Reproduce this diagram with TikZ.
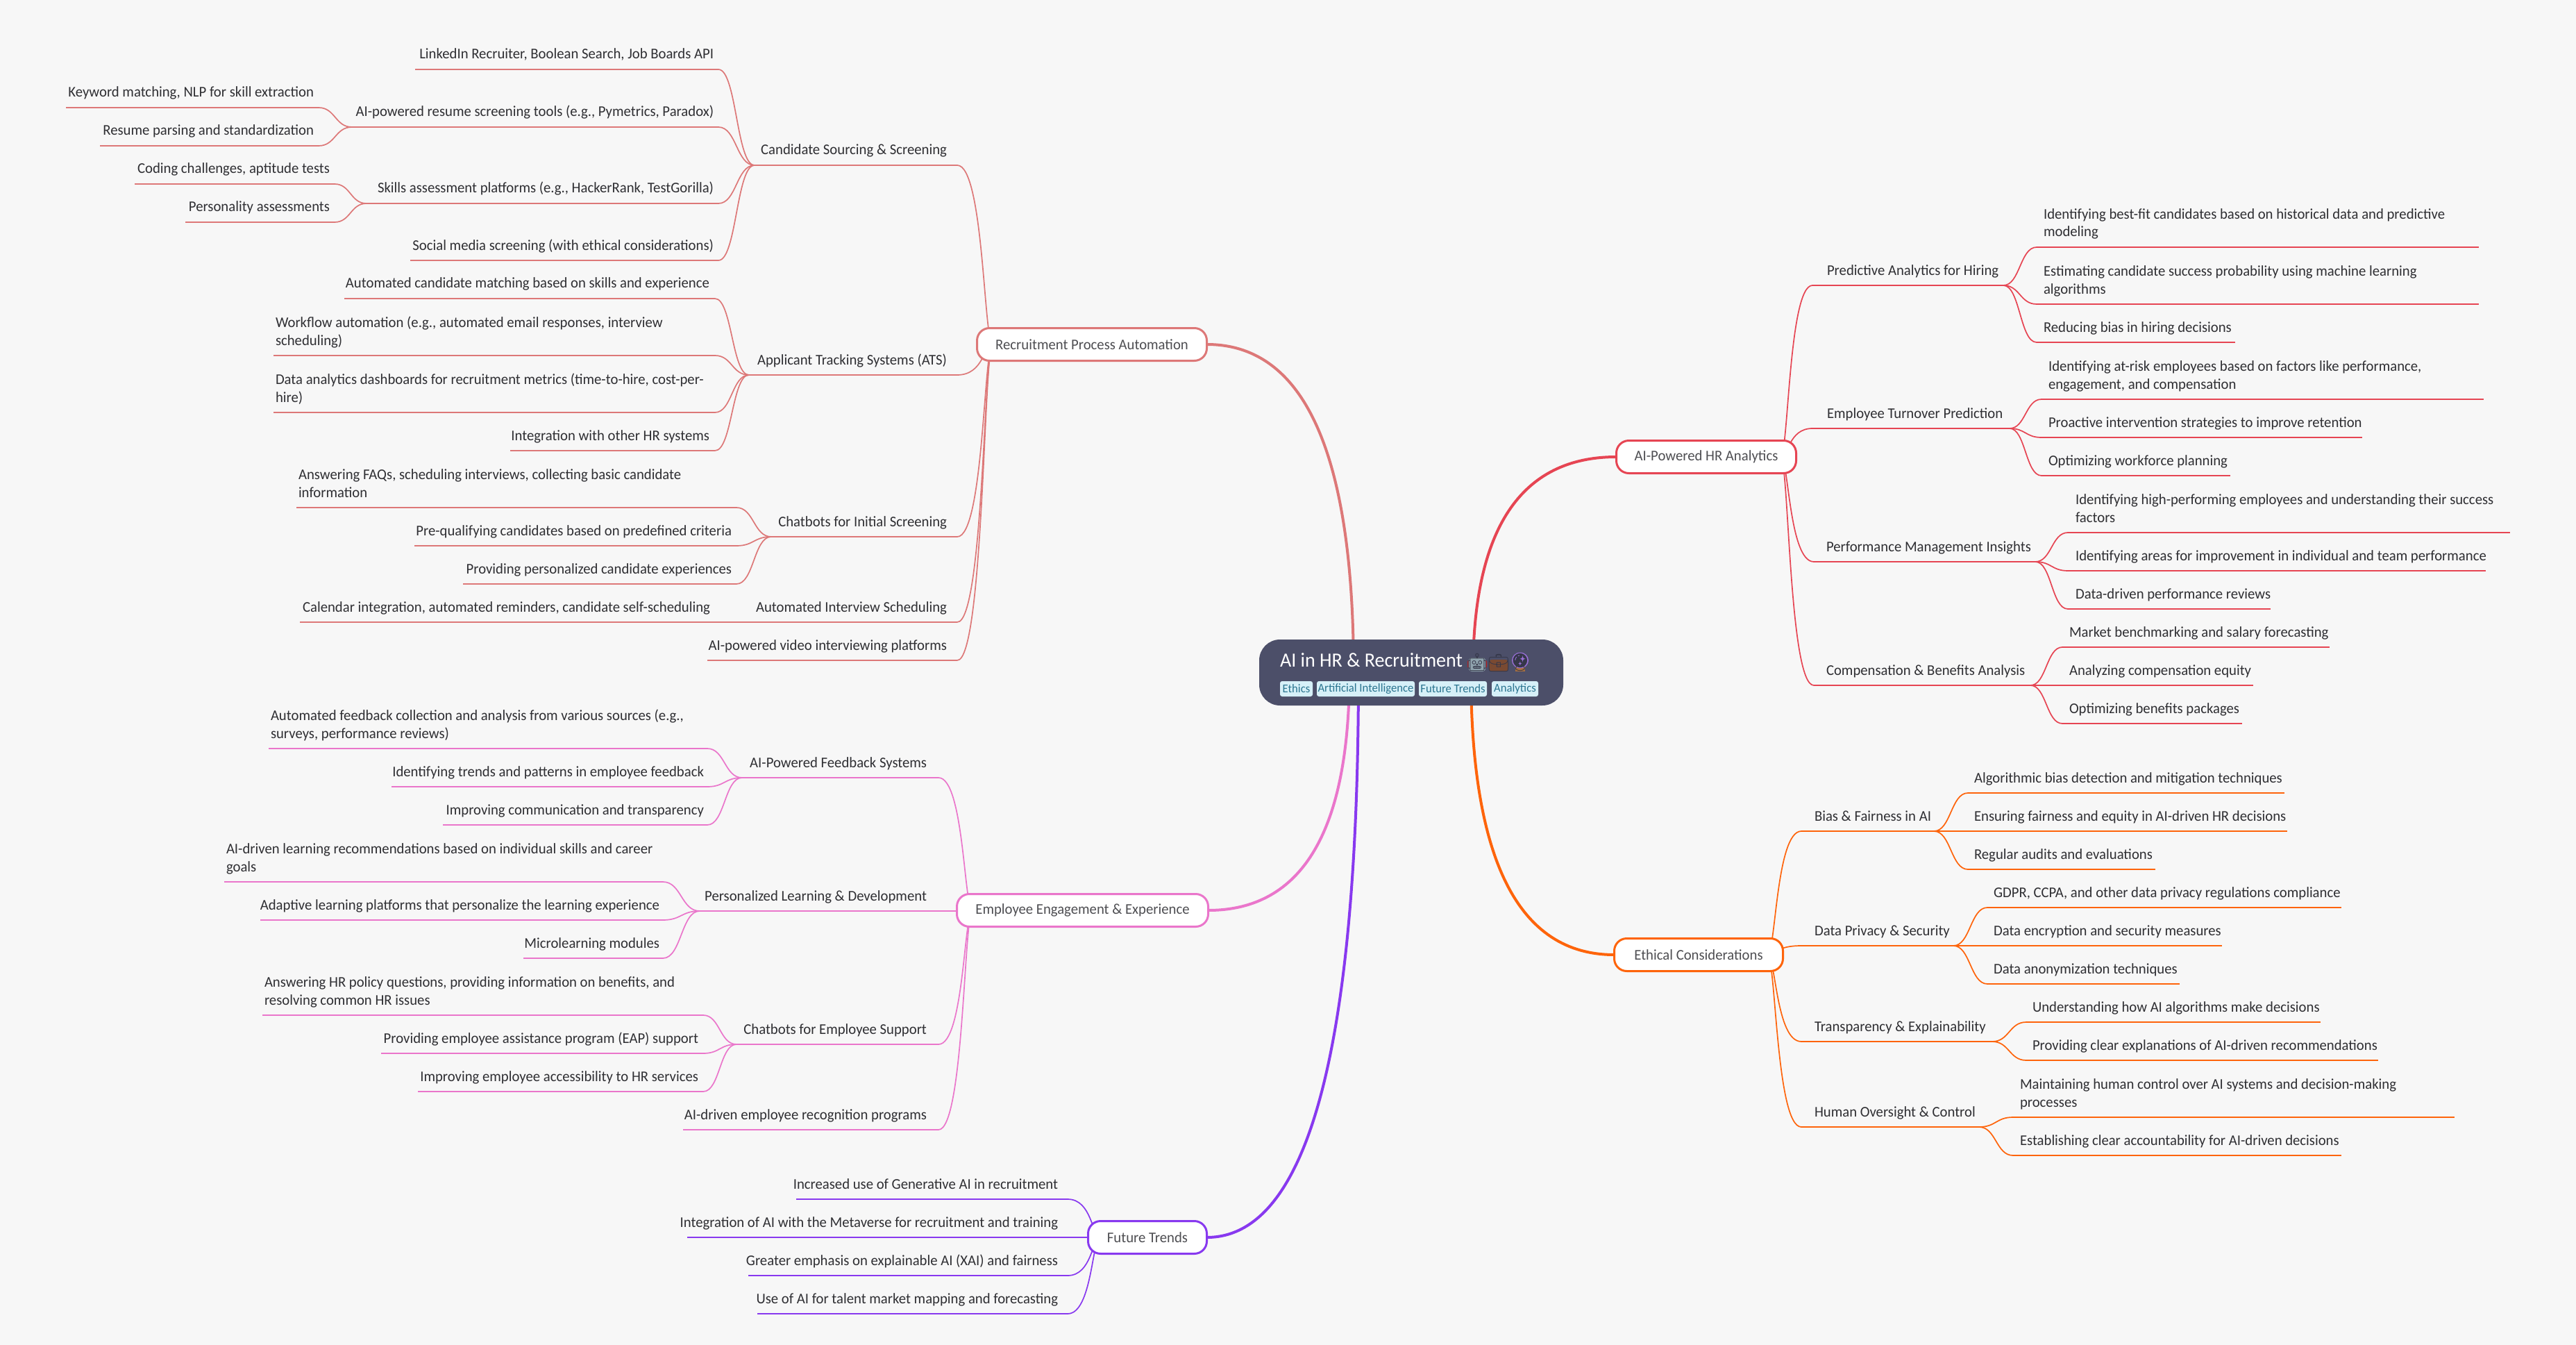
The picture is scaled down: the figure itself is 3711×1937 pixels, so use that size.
\documentclass[tikz,border=0pt]{standalone}
\usepackage{fontspec}
\setmainfont{Carlito}[FakeStretch=0.968]
\newfontfamily\emojifont{Noto Emoji}
\usetikzlibrary{calc}
\definecolor{bgc}{HTML}{F7F7F7}
\definecolor{flam}{HTML}{DD7878}
\definecolor{pinkc}{HTML}{EA76CB}
\definecolor{mauve}{HTML}{8839EF}
\definecolor{maroon}{HTML}{E64553}
\definecolor{peach}{HTML}{FE640B}
\definecolor{rootc}{HTML}{4C4F69}
\definecolor{tagbg}{HTML}{D6F0F8}
\definecolor{tagfg}{HTML}{2B7590}
\definecolor{leaftxt}{HTML}{2F2F33}
\definecolor{emgrey}{HTML}{90A4AE}
\definecolor{embrown}{HTML}{7A4A32}
\definecolor{embase}{HTML}{A8703F}
\definecolor{emball}{HTML}{9A70D8}
\definecolor{emred}{HTML}{C62828}
\tikzset{
  sc/.style={to path={let \p1=(\tikztostart),\p2=(\tikztotarget) in
    .. controls ({#1*\x2+(1-#1)*\x1},\y1) and ({#1*\x2+(1-#1)*\x1},\y2) .. (\tikztotarget)}},
  qd/.style={to path={let \p1=(\tikztostart),\p2=(\tikztotarget) in
    .. controls (\x1,{\y1+0.6667*(\y2-\y1)}) and ({\x2+0.6667*(\x1-\x2)},\y2) .. (\tikztotarget)}},
  underl/.style={draw=bc,line width=1.25pt},
  conn/.style={draw=bc,line width=0.85pt},
  mainc/.style={line width=2pt},
  txtbase/.style={inner sep=0pt,outer sep=0pt,text=leaftxt,font=\fontsize{10.7}{13}\selectfont},
  tl/.style={txtbase,anchor=base east,align=right},
  tr/.style={txtbase,anchor=base west,align=left},
  bnode/.style={draw=bc,line width=1.5pt,fill=white,rounded corners=9pt,inner sep=0pt,outer sep=0pt,
    minimum height=23.5pt,text=leaftxt!85!white,font=\fontsize{10.7}{13}\selectfont},
  tagn/.style={fill=tagbg,rounded corners=1.5pt,inner sep=0pt,outer sep=0pt,minimum height=11pt,
    text=tagfg,font=\fontsize{8.6}{10}\selectfont},
  emo/.style={inner sep=0pt,outer sep=0pt,font=\emojifont\fontsize{12.5}{13}\selectfont},
}
% name, line start x, line end x, line y, text style, text x, text
\newcommand\Ent[7]{%
  \coordinate (#1-a) at (#2,#4);
  \coordinate (#1-b) at (#3,#4);
  \draw[underl] (#1-a) -- (#1-b);
  \node[#5] (#1) at (#6,{#4-15}) {#7};
}
\newcommand\Lc[2]{\draw[conn] (#1-b) to[sc=0.5] (#2-a);}
\newcommand\Rc[2]{\draw[conn] (#1-a) to[sc=0.5] (#2-b);}
\newcommand\Lm[2]{\draw[conn] (#1-b) to[sc=0.75] (#2);}
\newcommand\Rm[2]{\draw[conn] (#1-a) to[sc=0.75] (#2);}
\begin{document}
\begin{tikzpicture}[x=0.5pt,y=-0.5pt]
\useasboundingbox (0,0) rectangle (3711,1937);
\fill[bgc] (0,0) rectangle (3711,1937);

% ---------- Recruitment Process Automation
\colorlet{bc}{flam}
\coordinate (recj) at (1430,496);
\Ent{cand}{1087}{1379}{238}{tl}{1364}{Candidate Sourcing \& Screening}
\Ent{link}{598}{1035}{100}{tl}{1028}{LinkedIn Recruiter, Boolean Search, Job Boards API}
\Ent{resume}{507}{1035}{183}{tl}{1028}{AI-powered resume screening tools (e.g., Pymetrics, Paradox)}
\Ent{keyw}{95}{459}{155}{tl}{452}{Keyword matching, NLP for skill extraction}
\Ent{parse}{144}{459}{210}{tl}{452}{Resume parsing and standardization}
\Ent{skills}{528}{1035}{293}{tl}{1028}{Skills assessment platforms (e.g., HackerRank, TestGorilla)}
\Ent{coding}{194}{482}{265}{tl}{475}{Coding challenges, aptitude tests}
\Ent{person}{267}{482}{320}{tl}{475}{Personality assessments}
\Ent{social}{591}{1035}{375}{tl}{1028}{Social media screening (with ethical considerations)}
\Lc{link}{cand}\Lc{resume}{cand}\Lc{skills}{cand}\Lc{social}{cand}
\Lc{keyw}{resume}\Lc{parse}{resume}\Lc{coding}{skills}\Lc{person}{skills}
\Ent{ats}{1079}{1379}{540}{tl}{1364}{Applicant Tracking Systems (ATS)}
\Ent{match}{496}{1030}{430}{tl}{1022}{Automated candidate matching based on skills and experience}
\Ent{workf}{394}{1030}{512}{tr}{397}{Workflow automation (e.g., automated email responses, interview\\scheduling)}
\Ent{dash}{394}{1030}{594}{tr}{397}{Data analytics dashboards for recruitment metrics (time-to-hire, cost-per-\\hire)}
\Ent{integ}{735}{1030}{649}{tl}{1022}{Integration with other HR systems}
\Lc{match}{ats}\Lc{workf}{ats}\Lc{dash}{ats}\Lc{integ}{ats}
\Ent{chat}{1111}{1379}{773}{tl}{1364}{Chatbots for Initial Screening}
\Ent{faq}{427}{1061}{731}{tr}{430}{Answering FAQs, scheduling interviews, collecting basic candidate\\information}
\Ent{prequal}{597}{1061}{786}{tl}{1054}{Pre-qualifying candidates based on predefined criteria}
\Ent{persexp}{667}{1061}{841}{tl}{1054}{Providing personalized candidate experiences}
\Lc{faq}{chat}\Lc{prequal}{chat}\Lc{persexp}{chat}
\Ent{autoint}{1080}{1379}{896}{tl}{1364}{Automated Interview Scheduling}
\Ent{calend}{432}{1080}{896}{tl}{1023}{Calendar integration, automated reminders, candidate self-scheduling}
\Lc{calend}{autoint}
\Ent{video}{1019}{1379}{951}{tl}{1364}{AI-powered video interviewing platforms}
\Lm{cand}{recj}\Lm{ats}{recj}\Lm{chat}{recj}\Lm{autoint}{recj}\Lm{video}{recj}
\node[bnode,minimum width=165.5pt] (rec) at (1573,496) {Recruitment Process Automation};

% ---------- Employee Engagement & Experience
\colorlet{bc}{pinkc}
\coordinate (empj) at (1401,1311);
\Ent{feedb}{1069}{1352}{1120}{tl}{1335}{AI-Powered Feedback Systems}
\Ent{fcoll}{387}{1019}{1078}{tr}{390}{Automated feedback collection and analysis from various sources (e.g.,\\surveys, performance reviews)}
\Ent{ftrend}{564}{1019}{1133}{tl}{1014}{Identifying trends and patterns in employee feedback}
\Ent{fcomm}{638}{1019}{1188}{tl}{1014}{Improving communication and transparency}
\Lc{fcoll}{feedb}\Lc{ftrend}{feedb}\Lc{fcomm}{feedb}
\Ent{plearn}{1008}{1379}{1312}{tl}{1335}{Personalized Learning \& Development}
\Ent{lrec}{323}{955}{1270}{tr}{326}{AI-driven learning recommendations based on individual skills and career\\goals}
\Ent{ladapt}{375}{955}{1325}{tl}{950}{Adaptive learning platforms that personalize the learning experience}
\Ent{lmicro}{754}{955}{1380}{tl}{950}{Microlearning modules}
\Lc{lrec}{plearn}\Lc{ladapt}{plearn}\Lc{lmicro}{plearn}
\Ent{csup}{1061}{1352}{1504}{tl}{1335}{Chatbots for Employee Support}
\Ent{cpol}{378}{1013}{1462}{tr}{381}{Answering HR policy questions, providing information on benefits, and\\resolving common HR issues}
\Ent{ceap}{549}{1013}{1517}{tl}{1006}{Providing employee assistance program (EAP) support}
\Ent{cacc}{602}{1013}{1572}{tl}{1006}{Improving employee accessibility to HR services}
\Lc{cpol}{csup}\Lc{ceap}{csup}\Lc{cacc}{csup}
\Ent{recog}{984}{1352}{1627}{tl}{1335}{AI-driven employee recognition programs}
\Lm{feedb}{empj}\Lm{plearn}{empj}\Lm{csup}{empj}\Lm{recog}{empj}
\node[bnode,minimum width=181pt] (emp) at (1559.5,1311) {Employee Engagement \& Experience};

% ---------- Future Trends
\colorlet{bc}{mauve}
\coordinate (futj) at (1585,1782);
\Ent{fgen}{1147}{1538}{1727}{tl}{1524}{Increased use of Generative AI in recruitment}
\Ent{fmeta}{990}{1538}{1782}{tl}{1524}{Integration of AI with the Metaverse for recruitment and training}
\Ent{fxai}{1078}{1538}{1837}{tl}{1524}{Greater emphasis on explainable AI (XAI) and fairness}
\Ent{fmap}{1091}{1538}{1892}{tl}{1524}{Use of AI for talent market mapping and forecasting}
\Lm{fgen}{futj}\Lm{fmeta}{futj}\Lm{fxai}{futj}\Lm{fmap}{futj}
\node[bnode,minimum width=85.5pt] (fut) at (1653,1782) {Future Trends};

% ---------- AI-Powered HR Analytics
\colorlet{bc}{maroon}
\coordinate (anaj) at (2565,658);
\Ent{pred}{2611}{2886}{411}{tr}{2632}{Predictive Analytics for Hiring}
\Ent{pfit}{2934}{3571}{356}{tr}{2944}{Identifying best-fit candidates based on historical data and predictive\\modeling}
\Ent{pprob}{2934}{3571}{438}{tr}{2944}{Estimating candidate success probability using machine learning\\algorithms}
\Ent{pbias}{2934}{3220}{493}{tr}{2944}{Reducing bias in hiring decisions}
\Rc{pfit}{pred}\Rc{pprob}{pred}\Rc{pbias}{pred}
\Ent{turn}{2611}{2895}{617}{tr}{2632}{Employee Turnover Prediction}
\Ent{trisk}{2941}{3578}{575}{tr}{2951}{Identifying at-risk employees based on factors like performance,\\engagement, and compensation}
\Ent{tpro}{2941}{3403}{630}{tr}{2951}{Proactive intervention strategies to improve retention}
\Ent{tplan}{2941}{3213}{685}{tr}{2951}{Optimizing workforce planning}
\Rc{trisk}{turn}\Rc{tpro}{turn}\Rc{tplan}{turn}
\Ent{perf}{2613}{2932}{809}{tr}{2631}{Performance Management Insights}
\Ent{phigh}{2979}{3616}{767}{tr}{2990}{Identifying high-performing employees and understanding their success\\factors}
\Ent{parea}{2979}{3581}{822}{tr}{2990}{Identifying areas for improvement in individual and team performance}
\Ent{pdata}{2979}{3271}{877}{tr}{2990}{Data-driven performance reviews}
\Rc{phigh}{perf}\Rc{parea}{perf}\Rc{pdata}{perf}
\Ent{comp}{2613}{2925}{987}{tr}{2631}{Compensation \& Benefits Analysis}
\Ent{cmark}{2971}{3356}{932}{tr}{2981}{Market benchmarking and salary forecasting}
\Ent{cequi}{2925}{3246}{987}{tr}{2981}{Analyzing compensation equity}
\Ent{cbene}{2971}{3230}{1042}{tr}{2981}{Optimizing benefits packages}
\Rc{cmark}{comp}\Rc{cbene}{comp}
\Rm{pred}{anaj}\Rm{turn}{anaj}\Rm{perf}{anaj}\Rm{comp}{anaj}
\node[bnode,minimum width=129.5pt] (ana) at (2458,658) {AI-Powered HR Analytics};

% ---------- Ethical Considerations
\colorlet{bc}{peach}
\coordinate (ethj) at (2546,1375);
\Ent{bias}{2595}{2786}{1197}{tr}{2614}{Bias \& Fairness in AI}
\Ent{balg}{2835}{3291}{1142}{tr}{2844}{Algorithmic bias detection and mitigation techniques}
\Ent{bfair}{2786}{3295}{1197}{tr}{2844}{Ensuring fairness and equity in AI-driven HR decisions}
\Ent{baud}{2835}{3105}{1252}{tr}{2844}{Regular audits and evaluations}
\Rc{balg}{bias}\Rc{baud}{bias}
\Ent{priv}{2595}{2814}{1362}{tr}{2614}{Data Privacy \& Security}
\Ent{pgdpr}{2863}{3373}{1307}{tr}{2872}{GDPR, CCPA, and other data privacy regulations compliance}
\Ent{penc}{2814}{3201}{1362}{tr}{2872}{Data encryption and security measures}
\Ent{panon}{2863}{3140}{1417}{tr}{2872}{Data anonymization techniques}
\Rc{pgdpr}{priv}\Rc{panon}{priv}
\Ent{trans}{2595}{2870}{1500}{tr}{2614}{Transparency \& Explainability}
\Ent{tund}{2919}{3343}{1472}{tr}{2928}{Understanding how AI algorithms make decisions}
\Ent{tclear}{2919}{3426}{1527}{tr}{2928}{Providing clear explanations of AI-driven recommendations}
\Rc{tund}{trans}\Rc{tclear}{trans}
\Ent{human}{2595}{2851}{1623}{tr}{2614}{Human Oversight \& Control}
\Ent{hcont}{2900}{3536}{1609}{tr}{2910}{Maintaining human control over AI systems and decision-making\\processes}
\Ent{hacc}{2900}{3373}{1664}{tr}{2910}{Establishing clear accountability for AI-driven decisions}
\Rc{hcont}{human}\Rc{hacc}{human}
\Rm{bias}{ethj}\Rm{priv}{ethj}\Rm{trans}{ethj}\Rm{human}{ethj}
\node[bnode,minimum width=121.5pt] (eth) at (2447,1375) {Ethical Considerations};

% ---------- Main branches
\coordinate (srec) at (1950,968);
\coordinate (semp) at (1944,968);
\coordinate (sfut) at (1957,968);
\coordinate (sana) at (2122,968);
\coordinate (seth) at (2119,968);
\draw[mainc,flam] (srec) to[qd] (rec.east);
\draw[mainc,pinkc] (semp) to[qd] (emp.east);
\draw[mainc,mauve] (sfut) to[qd] (fut.east);
\draw[mainc,maroon] (sana) to[qd] (ana.west);
\draw[mainc,peach] (seth) to[qd] (eth.west);

% ---------- Root
\node[fill=rootc,rounded corners=15pt,inner sep=0pt,outer sep=0pt,minimum width=219pt,minimum height=47.5pt] (root) at (2033,968.5) {};
\node[inner sep=0pt,outer sep=0pt,anchor=base west,text=white,font=\fontsize{14.5}{16}\selectfont] (title) at (1844,960) {AI in HR \& Recruitment};
% colour bodies behind the emoji glyphs
\fill[rounded corners=1pt,emred] (2114,951) rectangle (2142,962);
\fill[rounded corners=2pt,emgrey] (2116,947) rectangle (2140,967);
\fill[rounded corners=2pt,embrown] (2145,950) rectangle (2173,967);
\fill[embase] (2183,958) rectangle (2197,967);
\fill[emball] (2190,951) circle [x radius=12,y radius=11.5];
\node[emo,text=rootc!70!black] (erobot) at (2128,953.5) {🤖};
\node[emo,text=rootc!70!black] (ecase) at (2159,955) {💼};
\node[emo,text=rootc!70!black] (eball) at (2190,953.5) {🔮};
\node[tagn,minimum width=23.5pt] (t1) at (1867.5,992) {Ethics};
\node[tagn,minimum width=70.5pt] (t2) at (1967.5,992) {Artificial Intelligence};
\node[tagn,minimum width=49pt] (t3) at (2093,992) {Future Trends};
\node[tagn,minimum width=33.5pt] (t4) at (2182.5,992) {Analytics};
\end{tikzpicture}
\end{document}
